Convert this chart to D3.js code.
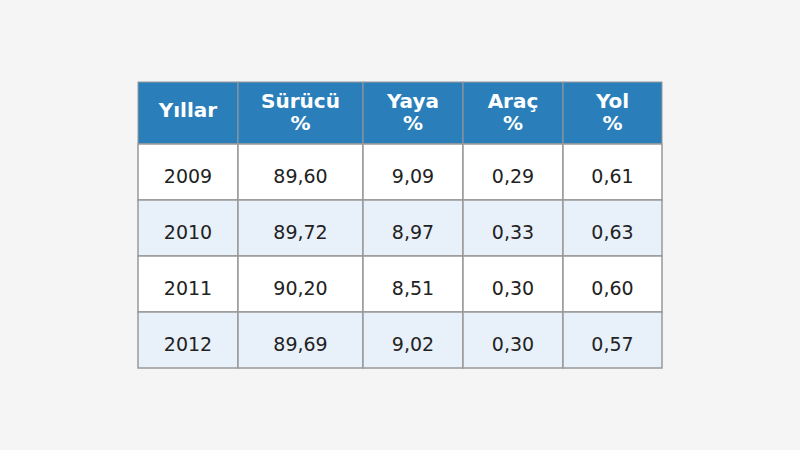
<!DOCTYPE html>
<html><head><meta charset="utf-8">
<script src="https://cdn.jsdelivr.net/npm/d3@7"></script>
<style>body{margin:0;background:#f5f5f5}</style>
</head><body><svg id="c" width="800" height="450"></svg>
<script>
const headers = [["Yıllar"],["Sürücü","%"],["Yaya","%"],["Araç","%"],["Yol","%"]];
const years = ["2009","2010","2011","2012"];
const surucu = ["89,60","89,72","90,20","89,69"];
const yaya = ["9,09","8,97","8,51","9,02"];
const arac = ["0,29","0,33","0,30","0,30"];
const yol = ["0,61","0,63","0,60","0,57"];
const colWeights = [100,125,100,100,99];

const svg = d3.select("#c");
svg.append("rect").attr("width",800).attr("height",450).attr("fill","#f5f5f5");
const cum=[0]; colWeights.forEach(w=>cum.push(cum[cum.length-1]+w));
const x = d3.scaleLinear().domain([0,cum[cum.length-1]]).range([138,662]);
const y = d3.scaleLinear().domain([0,1]).range([82,144]);
const rowH=56;
const rows = years.map((yr,i)=>[yr,surucu[i],yaya[i],arac[i],yol[i]]);
const font="DejaVu Sans, sans-serif";
headers.forEach((h,j)=>{
  svg.append("rect").attr("x",x(cum[j])).attr("y",y(0)).attr("width",x(cum[j+1])-x(cum[j])).attr("height",y(1)-y(0))
    .attr("fill","#2a7fba").attr("stroke","#999").attr("stroke-width",1);
  const cx=(x(cum[j])+x(cum[j+1]))/2;
  const t=svg.append("text").attr("x",cx).attr("text-anchor","middle").attr("fill","#fff")
    .attr("font-family",font).attr("font-weight","bold").attr("font-size",20);
  if(h.length===1) t.attr("y",117).text(h[0]);
  else { t.append("tspan").attr("x",cx).attr("y",108).text(h[0]); t.append("tspan").attr("x",cx).attr("y",130).text(h[1]); }
});
rows.forEach((r,i)=>{
  const top=y(1)+i*rowH;
  r.forEach((v,j)=>{
    svg.append("rect").attr("x",x(cum[j])).attr("y",top).attr("width",x(cum[j+1])-x(cum[j])).attr("height",rowH)
      .attr("fill",i%2?"#e8f0fa":"#ffffff").attr("stroke","#999").attr("stroke-width",1.5);
    svg.append("text").attr("x",(x(cum[j])+x(cum[j+1]))/2).attr("y",top+rowH/2+11).attr("text-anchor","middle")
      .attr("font-family",font).attr("font-size",19).attr("fill","#222").text(v);
  });
});
</script></body></html>
